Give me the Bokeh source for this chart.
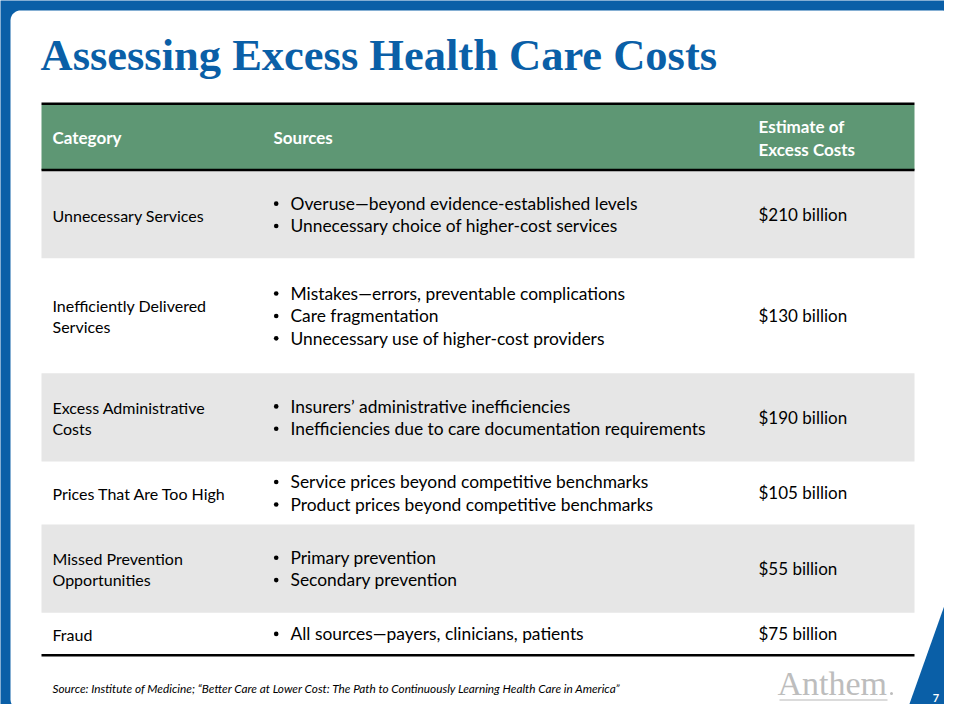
import math
from bokeh.plotting import figure
from bokeh.models import Range1d, ColumnDataSource
from bokeh.embed import file_html
from bokeh.resources import INLINE
from bokeh.core.properties import value

# ---------------- data ----------------
title = "Assessing Excess Health Care Costs"
header_labels = ["Category", "Sources", "Estimate of\nExcess Costs"]
categories = [
    "Unnecessary Services",
    "Inefficiently Delivered\nServices",
    "Excess Administrative\nCosts",
    "Prices That Are Too High",
    "Missed Prevention\nOpportunities",
    "Fraud",
]
sources = [
    ["Overuse\u2014beyond evidence-established levels",
     "Unnecessary choice of higher-cost services"],
    ["Mistakes\u2014errors, preventable complications",
     "Care fragmentation",
     "Unnecessary use of higher-cost providers"],
    ["Insurers\u2019 administrative inefficiencies",
     "Inefficiencies due to care documentation requirements"],
    ["Service prices beyond competitive benchmarks",
     "Product prices beyond competitive benchmarks"],
    ["Primary prevention",
     "Secondary prevention"],
    ["All sources\u2014payers, clinicians, patients"],
]
estimates_bn = [210, 130, 190, 105, 55, 75]
footnote = ("Source: Institute of Medicine; \u201cBetter Care at Lower Cost: The Path to "
            "Continuously Learning Health Care in America\u201d")
logo_text = "Anthem"
page_number = "7"

# ---------------- layout / style ----------------
BLUE = "#0A5FA7"
GREEN = "#5E9774"
GRAY = "#E6E6E6"
BODY_FONT = "Lato"
TABLE_L, TABLE_R = 41, 914
HEAD_TOP, HEAD_BOT = 104.5, 169.5
row_edges = [170.5, 257.7, 372.7, 461.0, 524.0, 612.3, 654.0]
COL_X = [52, 290, 758]
BULLET_X = 275.7
W, H = 944, 704
K = 0.36  # baseline correction (fraction of font size)

p = figure(width=W, height=H, x_range=Range1d(0, W), y_range=Range1d(H, 0),
           output_backend="svg", toolbar_location=None, min_border=0,
           x_axis_location=None, y_axis_location=None)
p.grid.visible = False
p.outline_line_color = None
p.background_fill_color = BLUE
p.border_fill_color = BLUE

# white slide panel with rounded corners and the blue wedge bottom-right
def arc(cx, cy, r, a0, a1, n=10):
    pts = []
    for k in range(n + 1):
        a = math.radians(a0 + (a1 - a0) * k / n)
        pts.append((cx + r * math.cos(a), cy + r * math.sin(a)))
    return pts

R = 10
pl, pr, pt, pb = 10, 951, 10, 709
pts = arc(pl + R, pt + R, R, 180, 270) + arc(pr - R, pt + R, R, 270, 360)
pts += [(pr, 585), (907, pb)] + arc(pl + R, pb - R, R, 90, 180)
p.patch([q[0] for q in pts], [q[1] for q in pts], fill_color="white", line_color=None)

def base(y, size):
    return y - K * size

# title
TS = 44.5
p.text(x=[40], y=[base(70.7, TS)], text=[title], text_font=value("Liberation Serif"),
       text_font_style="bold", text_font_size=f"{TS}px", text_color=BLUE,
       text_baseline="alphabetic")

# header band
p.quad(left=[TABLE_L], right=[TABLE_R], top=[HEAD_TOP], bottom=[HEAD_BOT],
       fill_color=GREEN, line_color=None)

# row bands (alternating gray / white)
n_rows = len(categories)
band_idx = [i for i in range(n_rows) if i % 2 == 0]
p.quad(left=[TABLE_L] * len(band_idx), right=[TABLE_R] * len(band_idx),
       top=[row_edges[i] for i in band_idx], bottom=[row_edges[i + 1] for i in band_idx],
       fill_color=GRAY, line_color=None)

# rule lines
p.segment(x0=[TABLE_L] * 3, x1=[TABLE_R] * 3, y0=[103.3, 169.5, 654.7], y1=[103.3, 169.5, 654.7],
          line_color="black", line_width=2.5)

# text helpers
def block(center, lines, spacing, cap):
    n = len(lines)
    return [center - (n - 1) / 2 * spacing + i * spacing + cap / 2 for i in range(n)]

# header text
HS = 17
hx, hy, ht = [], [], []
hc = (HEAD_TOP + HEAD_BOT) / 2
for j, lab in enumerate(header_labels):
    lines = lab.split("\n")
    ys = block(hc, lines, 22.3, HS * 0.717)
    x = COL_X[j] if j != 1 else 273
    for ln, y in zip(lines, ys):
        hx.append(x); hy.append(base(y + 0.5, HS)); ht.append(ln)
p.text(x="x", y="y", text="t", source=ColumnDataSource(dict(x=hx, y=hy, t=ht)),
       text_font=value(BODY_FONT), text_font_style="bold", text_font_size=f"{HS}px",
       text_color="white", text_baseline="alphabetic")

# category column
CS = 16
cx, cy, ct = [], [], []
for i, cat in enumerate(categories):
    c = (row_edges[i] + row_edges[i + 1]) / 2
    lines = cat.split("\n")
    for ln, y in zip(lines, block(c, lines, 20.8, CS * 0.717)):
        cx.append(COL_X[0]); cy.append(base(y + 0.5, CS)); ct.append(ln)
p.text(x="x", y="y", text="t", source=ColumnDataSource(dict(x=cx, y=cy, t=ct)),
       text_font=value(BODY_FONT), text_font_size=f"{CS}px", text_color="black",
       text_baseline="alphabetic")

# sources column with bullets
SS = 17.4
sx, sy, st, bx, by = [], [], [], [], []
for i, lines in enumerate(sources):
    c = (row_edges[i] + row_edges[i + 1]) / 2
    for ln, y in zip(lines, block(c, lines, 22.4, SS * 0.717)):
        sx.append(COL_X[1]); sy.append(base(y, SS)); st.append(ln)
        bx.append(BULLET_X); by.append(y - 6.0)
p.text(x="x", y="y", text="t", source=ColumnDataSource(dict(x=sx, y=sy, t=st)),
       text_font=value(BODY_FONT), text_font_size=f"{SS}px", text_color="black",
       text_baseline="alphabetic")
p.scatter(x="x", y="y", source=ColumnDataSource(dict(x=bx, y=by)), marker="circle",
          size=4.6, fill_color="black", line_color=None)

# estimate column
ES = 17
ex, ey, et = [], [], []
for i, v in enumerate(estimates_bn):
    c = (row_edges[i] + row_edges[i + 1]) / 2
    ex.append(COL_X[2]); ey.append(base(c + ES * 0.717 / 2, ES)); et.append(f"${v} billion")
p.text(x="x", y="y", text="t", source=ColumnDataSource(dict(x=ex, y=ey, t=et)),
       text_font=value(BODY_FONT), text_font_size=f"{ES}px", text_color="black",
       text_baseline="alphabetic")

# footnote
FS = 11.8
p.text(x=[52], y=[base(692.3, FS)], text=[footnote], text_font=value(BODY_FONT),
       text_font_style="italic", text_font_size=f"{FS}px", text_color="black",
       text_baseline="alphabetic")

# logo
LS = 34
p.text(x=[777], y=[base(695, LS)], text=[logo_text], text_font=value("Liberation Serif"),
       text_font_size=f"{LS}px", text_color="#BDBDBD", text_baseline="alphabetic")
p.segment(x0=[779], x1=[887], y0=[699.5], y1=[699.5], line_color="#CFCFCF", line_width=1.5)
p.scatter(x=[891], y=[693], size=3, marker="circle", fill_color="#BDBDBD", line_color=None)

# page number
NS = 11
p.text(x=[935.5], y=[base(701, NS)], text=[page_number], text_font=value(BODY_FONT),
       text_font_style="bold", text_font_size=f"{NS}px", text_color="white",
       text_baseline="alphabetic", text_align="center")

open("out.html", "w").write(file_html(p, INLINE))
